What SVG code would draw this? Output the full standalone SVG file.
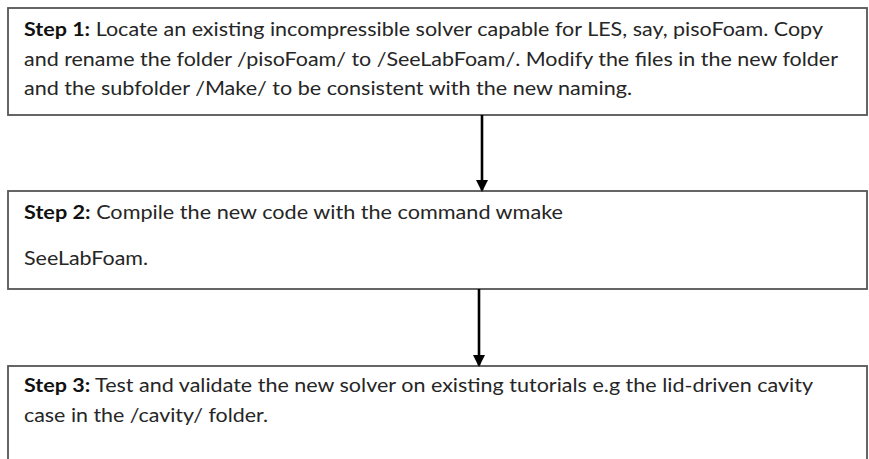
<svg xmlns="http://www.w3.org/2000/svg" width="869" height="459" viewBox="0 0 869 459">
<style>
.box{fill:#ffffff;stroke:#555555;stroke-width:1.8}
.t{font-family:Lato,"Open Sans","Liberation Sans",sans-serif;font-size:18.5px;fill:#262626}
.b{font-weight:bold;fill:#111111}
.conn{stroke:#000000;stroke-width:2.6;fill:none}
</style>
<defs>
<marker id="ah" markerWidth="12" markerHeight="12" refX="10" refY="6" orient="auto" markerUnits="userSpaceOnUse">
<path d="M0,0 L12,6 L0,12 Z" fill="#000000"/>
</marker>
</defs>
<rect width="869" height="459" fill="#ffffff"/>
<g id="step1">
<rect class="box" x="8" y="8" width="859" height="107"/>
<text class="t" x="24" y="36" textLength="799" lengthAdjust="spacingAndGlyphs"><tspan class="b">Step 1:</tspan> Locate an existing incompressible solver capable for LES, say, pisoFoam. Copy</text>
<text class="t" x="24" y="65.5" textLength="814" lengthAdjust="spacingAndGlyphs">and rename the folder /pisoFoam/ to /SeeLabFoam/. Modify the files in the new folder</text>
<text class="t" x="24" y="95" textLength="608" lengthAdjust="spacingAndGlyphs">and the subfolder /Make/ to be consistent with the new naming.</text>
</g>
<g id="step2">
<rect class="box" x="8" y="191" width="859" height="98"/>
<text class="t" x="24" y="219" textLength="539" lengthAdjust="spacingAndGlyphs"><tspan class="b">Step 2:</tspan> Compile the new code with the command wmake</text>
<text class="t" x="24" y="265" textLength="124" lengthAdjust="spacingAndGlyphs">SeeLabFoam.</text>
</g>
<g id="step3">
<rect class="box" x="8" y="366" width="859" height="110"/>
<text class="t" x="24" y="392" textLength="789" lengthAdjust="spacingAndGlyphs"><tspan class="b">Step 3:</tspan> Test and validate the new solver on existing tutorials e.g the lid-driven cavity</text>
<text class="t" x="24" y="422" textLength="244" lengthAdjust="spacingAndGlyphs">case in the /cavity/ folder.</text>
</g>
<g id="connectors">
<line class="conn" x1="482" y1="115" x2="482" y2="190" marker-end="url(#ah)"/>
<line class="conn" x1="479" y1="289" x2="479" y2="365" marker-end="url(#ah)"/>
</g>
</svg>
